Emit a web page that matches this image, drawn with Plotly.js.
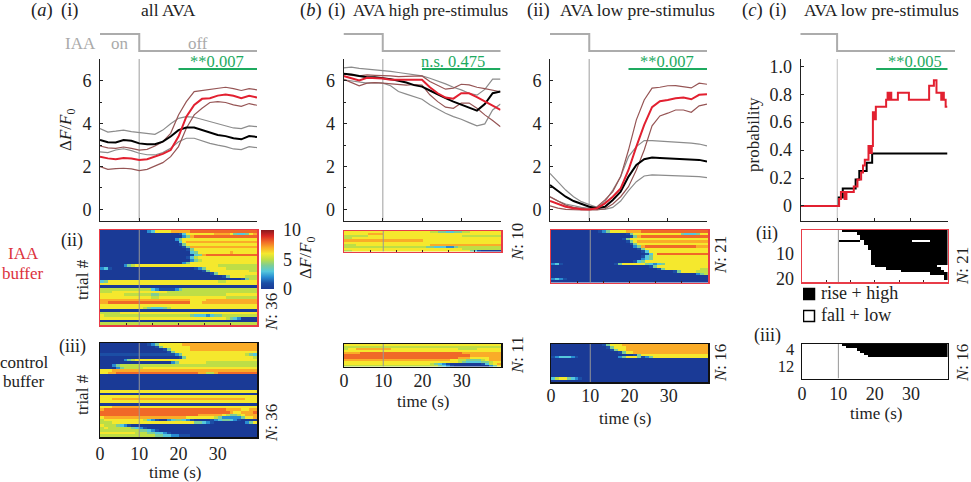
<!DOCTYPE html>
<html>
<head>
<meta charset="utf-8">
<script src="https://cdn.plot.ly/plotly-3.0.1.min.js"></script>
<style>html,body{margin:0;padding:0;background:#fff}</style>
</head>
<body>
<div id="chart" style="width:971px;height:482px"></div>
<script>
var W = 971, H = 482;
var serif = '"Liberation Serif", serif';

//time axis of the averaged traces, every 2 s
var lineTime = [0,2,4,6,8,10,12,14,16,18,20,22,24,26,28,30,32,34,36,38,40];
var stimTime = [0,10,43];
var stimLevel = [1,0,0];

//(a)(i) all AVA
var aControlMean = [3.24,3.13,3.12,3.24,3.2,3.08,3.04,3.04,3.16,3.4,3.7,3.82,3.82,3.7,3.58,3.47,3.42,3.32,3.27,3.42,3.38];
var aControlUp = [3.77,3.61,3.65,3.7,3.63,3.58,3.52,3.5,3.7,4.0,4.25,4.33,4.3,4.2,4.08,3.98,3.9,3.8,3.77,3.9,3.86];
var aControlLow = [2.68,2.65,2.77,2.83,2.74,2.62,2.55,2.54,2.65,2.85,3.16,3.32,3.32,3.2,3.08,3.0,2.93,2.82,2.79,2.93,2.88];
var aIaaMean = [2.46,2.38,2.34,2.4,2.37,2.3,2.34,2.46,2.59,2.77,3.4,4.33,4.88,5.16,5.19,5.31,5.36,5.3,5.19,5.3,5.22];
var aIaaUp = [2.96,2.87,2.85,2.91,2.85,2.77,2.8,2.96,3.16,3.55,4.41,5.03,5.5,5.55,5.61,5.67,5.7,5.64,5.55,5.64,5.58];
var aIaaLow = [2.0,1.87,1.9,1.92,1.89,1.81,1.87,2.03,2.18,2.46,2.93,3.79,4.41,4.72,4.99,5.03,4.99,4.88,4.81,4.94,4.86];

//(b)(i) AVA high pre-stimulus
var bhControlMean = [6.33,6.3,6.23,6.17,6.17,6.14,6.08,6.0,5.92,5.8,5.73,5.55,5.35,5.19,5.03,4.88,4.74,4.61,4.92,5.42,5.5];
var bhControlUp = [6.61,6.64,6.58,6.55,6.51,6.48,6.44,6.39,6.33,6.28,6.23,6.12,6.0,5.86,5.7,5.58,5.42,5.33,5.6,6.08,6.08];
var bhControlLow = [6.05,6.0,5.92,5.89,5.92,5.89,5.77,5.5,5.38,5.27,5.14,4.88,4.67,4.49,4.33,4.21,4.05,3.9,3.99,4.64,4.92];
var bhIaaMean = [6.23,6.11,6.02,6.14,6.14,6.11,6.05,6.05,6.05,6.08,6.05,5.7,5.42,5.22,5.17,5.42,5.42,5.24,5.03,4.83,4.64];
var bhIaaUp = [6.33,6.26,6.23,6.28,6.26,6.26,6.23,6.2,6.2,6.23,6.23,5.97,5.77,5.61,5.66,5.84,5.81,5.7,5.64,5.55,5.49];
var bhIaaLow = [6.08,5.92,5.77,5.89,5.92,5.89,5.86,5.83,5.8,5.83,5.8,5.35,5.03,4.77,4.72,4.96,4.96,4.72,4.41,4.15,3.86];

//(b)(ii) AVA low pre-stimulus
var blControlMean = [1.14,.87,.59,.39,.25,.12,.05,.12,.44,.83,1.53,2.07,2.34,2.42,2.4,2.38,2.35,2.34,2.34,2.31,2.23];
var blControlUp = [1.68,1.29,.9,.59,.36,.22,.09,.36,.9,1.53,2.46,2.93,3.21,3.21,3.19,3.16,3.15,3.12,3.09,3.05,2.96];
var blControlLow = [.59,.39,.25,.16,.09,.05,0,0,.09,.39,.87,1.29,1.56,1.61,1.6,1.59,1.57,1.56,1.55,1.53,1.48];
var blIaaMean = [.39,.25,.12,.05,0,-.01,.05,.28,.59,.98,1.84,2.93,3.94,4.77,5.05,5.11,5.19,5.22,5.14,5.35,5.38];
var blIaaUp = [.59,.39,.2,.09,.03,0,.12,.44,.83,1.53,2.77,4.18,5.11,5.66,5.7,5.77,5.78,5.73,5.67,5.89,5.84];
var blIaaLow = [.16,.06,0,-.03,-.03,-.03,-.03,.03,.25,.59,1.06,1.84,2.77,3.9,4.36,4.49,4.64,4.64,4.53,4.83,4.91];

//(c)(i) probability steps
var probControlT = [0,10,10.4,11.5,14.5,15,16,18,19.5,40];
var probControl = [0,0,.06,.125,.125,.19,.25,.31,.375,.375];
var probIaaT = [0,10,10.5,11,12,12.5,14,14.5,15.5,16.5,17,17.5,18.5,19,19.4,19.7,20,20.5,23,23.3,23.7,24,24.4,24.7,26.5,29.5,35,36.3,37,38.3,38.6,39,39.5,40];
var probIaa = [0,0,.05,.1,.05,.1,.1,.14,.19,.24,.29,.33,.43,.38,.43,.67,.62,.71,.71,.76,.81,.76,.81,.76,.81,.76,.86,.9,.81,.76,.81,.76,.71,.71];

//heat map rows, one digit per second = dF/F0 rounded
var heatAllIaa = [
'0000000000 0023666677 7778888888 8888888888',
'0000000000 0000000000 1366666667 7776433467',
'0000000000 0000000000 0247888888 8888888888',
'0000000000 0000000002 4666666666 6666666666',
'0000000000 0000000000 3677777777 7777777777',
'0000000000 0000000000 1466666666 6666666666',
'0000000000 0000000000 0147777777 7777777777',
'0000000000 0000000000 0014666666 6666666666',
'0000000000 0000000000 0003466666 6667666666',
'0000000000 0000000000 0001347888 8888888888',
'0000000000 0000000000 0013566666 6666666666',
'0000000000 0000000000 0002456666 6666666666',
'0000000000 0000000000 0246666666 6666666666',
'0000002456 6666666666 6666666666 5555555555',
'2310000000 0000000000 0000124666 6655555555',
'0000000000 0000000000 0000001466 6666666655',
'0000000000 0000000000 0000000014 6666666666',
'0000000000 0000000000 0000000000 0146666555',
'0000000000 0000000000 0000000000 0000001455',
'3466666666 6666666666 6666666666 5566666666',
'6666666666 6666666666 6666666666 6666666666',
'0000000000 0000000000 0000000000 0000000000',
'5555555555 5553211112 4555555555 5555555555',
'5556666666 6666666555 5555555555 5555555555',
'6666665555 5554455555 5555555555 5566666666',
'6666666666 6665566666 6666666666 6655555555',
'7777777777 7777777777 7776666777 7777777777',
'7788888888 8888888888 8886667777 7777777777',
'6666666666 6666666666 6666666666 6666666666',
'6666666666 6543334566 6666666666 6666666666',
'0000000000 0000000000 0000000000 0000000000',
'5555566666 6666666666 6666666666 6666666666',
'6555555555 5555555555 5554333234 4555555555',
'6666666666 6666666666 6666666666 6654320000',
'0000000000 0000000000 0000000000 0000000000',
'5555555555 5555555555 5555555555 5555555555'
];
var heatAllControl = [
'0000000000 0012466666 6777777777 7777777777',
'0000000000 0000146666 6667777777 7777777777',
'0000000000 0000001466 6667777777 7777777777',
'0000000000 0000000146 6666666666 6666666666',
'1111111111 1111111112 4666666666 6666666543',
'0000000000 0000000000 1466666666 6666666665',
'0000002456 6666666666 6666666666 6666666666',
'0000000000 0000000024 6666666555 5555555555',
'0002455555 5555555555 5555555555 5555555555',
'0000245555 5666666666 6666666666 6666666666',
'6667777777 7777777777 7777777777 7777777777',
'6677888888 8888888888 8888877557 8888888888',
'0000000000 0000000000 0000000000 0000000000',
'0000000000 0000000000 0000000000 0000000000',
'0000000000 0000000000 0000000000 0000000000',
'0000000000 0000000000 0000000000 0000000000',
'0000000000 0000000000 0000000000 0000000000',
'0000000000 0000000000 0000000000 0000000000',
'6666666666 6666666666 6666666666 6666666666',
'0000000000 0000000000 0000000000 0000000000',
'6666666666 6666666666 6666666666 6666666666',
'6667777777 7777777777 7777777777 7777777666',
'6666666666 6666666666 6666666666 6666666666',
'0000000000 0000000000 0000000000 0000000000',
'6667777777 6666666666 6666666666 6666666666',
'7888888888 8888888888 8888888888 8877776677',
'8888888888 8888888888 8888888888 8887667778',
'8888888888 8888888888 8888877777 7654456777',
'6777777777 7777777777 7766666665 4222224667',
'5666666666 6532100234 4321000012 3443210000',
'5556666666 6666666666 6666443210 0000000246',
'6555432100 0000000000 0000000000 0000000000',
'5655555543 2100000000 0000000000 0000000000',
'5555555555 4432100000 0000000000 0000000000',
'6666666665 5544332100 0000000000 0000000000',
'5555555555 5555443322 1110000000 0000000000'
];
var heatHighIaa = [
'6666666666 6666666666 6655443344 5566666666',
'6666667777 6666666666 6666666666 6666666666',
'5555556666 6666666666 6666666666 5555555555',
'5566666666 6666666666 6666666666 6666666666',
'7777777777 7777777777 6666666666 6666666666',
'6666666666 6666666666 6666666666 6666666666',
'5556666666 6666666666 6677777777 7777777777',
'5555555555 5555555555 5443332245 5555555555',
'6666666666 6666666666 6666666666 5555555555',
'5566666666 6666666666 6666666666 6643100000'
];
var heatHighControl = [
'6666666666 6666666666 6666666666 6666666666',
'5555555555 5555555555 5555555555 5555555555',
'5667777777 7766666666 6666666665 5555666666',
'6666666666 6666666666 6666666666 6666666666',
'7777888888 8888888888 8888888888 7777777777',
'8888888888 8888888888 8888888888 8877777777',
'8888888888 8888888888 8888888887 7766666777',
'7777777777 7777777777 7777777665 5444456777',
'6666666666 6666666666 6666666665 4333344566',
'6666666666 6666666666 6654321000 0000013567',
'5555555555 5555555555 5555432100 0000000246'
];
var heatLowIaa = [
'0000000000 0012466667 7778888888 8888888888',
'0000000000 0000000001 4666666666 6664333466',
'0000000000 0000000000 1478888888 8888888888',
'0000000000 0000000014 6666666666 6666666666',
'0000000000 0000000001 4677777777 7777777777',
'0000000000 0000000000 1466666666 6666666666',
'0000000000 0000000000 0247888888 8888888777',
'0000000000 0000000000 0014666666 6666666666',
'0000000000 0000000000 0001366666 6666666666',
'0000000000 0000000000 0000136888 8888888888',
'0000000000 0000000000 0001346666 6666666666',
'0000000000 0000000000 0002346666 6666666666',
'0000000000 0000000000 0134666666 6666666666',
'2310000000 0000001466 6666432346 6666666666',
'0000000000 0000000000 0000014666 6666666666',
'0000000000 0000000000 0000000146 6666666655',
'0000000000 0000000000 0000000000 0146666555',
'0000000000 0000000000 0000000000 0000000245',
'0000000000 0000000000 0000000000 0000000000',
'2321000000 0000000000 0000000000 0000000000',
'0000000000 0000000000 0000000000 0000000000'
];
var heatLowControl = [
'0000000000 0001466677 7777777777 7777777777',
'0000000000 0000146667 7777777777 7777777777',
'0000000000 0000014667 7777777777 7777777777',
'0000000000 0000000146 6777777777 7777777777',
'0000000000 0000000000 0146666666 6666666666',
'1233321000 0000000246 6641246666 6666666666',
'0000000000 0000000000 0000000000 0000000000',
'0000000000 0000000000 0000000000 0000000000',
'0000000000 0000000000 0000000000 0000000000',
'0000000000 0000000000 0000000000 0000000000',
'0000000000 0000000000 0000000000 0000000000',
'0000000000 0000000000 0000000000 0000000000',
'0000000000 0000000000 0000000000 0000000000',
'0000000000 0000000000 0000000000 0000000000',
'3566432100 0000000000 0000000000 0000000000',
'0000000000 0000000000 0000000000 0000000000'
];
//rise + high = 1, fall + low = 0
var stateIaa = [
'0000000000 0111111111 1111111111 1111111111',
'0000000000 0000011111 1111111111 1111111111',
'0000000000 0000001111 1111111111 1111111111',
'0000000000 0000001111 1111111111 1111111111',
'0000000000 1111110111 1111111111 0000011111',
'0000000000 0000000111 1111111111 1111111111',
'0000000000 0000000011 1111111111 1111111111',
'0000000000 0000000011 1111111111 1111111111',
'0000000000 0000000001 1111111111 1111111111',
'0000000000 0000000001 1111111111 1111111111',
'0000000000 0000000001 1111111111 1111111111',
'0000000000 0000000001 1111111111 1111111111',
'0000000000 0000000001 1111111111 1111111111',
'0000000000 0000000001 1111111111 1111111111',
'0000000000 0000000000 1111111111 1111111000',
'0000000000 0000000000 0001111111 1111111100',
'0000000000 0000000000 0000000111 1111111110',
'0000000000 0000000000 0000000000 0000011111',
'0000000000 0000000000 0000000000 0000000001',
'0000000000 0000000000 0000000000 0000000001',
'0000000000 0000000000 0000000000 0000000000'
];
var stateControl = [
'0000000000 0111111111 1111111111 1111111111',
'0000000000 0011111111 1111111111 1111111111',
'0000000000 0000011111 1111111111 1111111111',
'0000000000 0000001111 1111111111 1111111111',
'0000000000 0000000111 1111111111 1111111111',
'0000000000 0000000011 1111111111 1111111111',
'0000000000 0000000000 0000000000 0000000000',
'0000000000 0000000000 0000000000 0000000000',
'0000000000 0000000000 0000000000 0000000000',
'0000000000 0000000000 0000000000 0000000000',
'0000000000 0000000000 0000000000 0000000000',
'0000000000 0000000000 0000000000 0000000000',
'0000000000 0000000000 0000000000 0000000000',
'0000000000 0000000000 0000000000 0000000000',
'0000000000 0000000000 0000000000 0000000000',
'0000000000 0000000000 0000000000 0000000000'
];
var stateNames = ['rise + high','fall + low'];

var heatColors = [
  [0,'rgb(26,58,150)'],[0.1,'rgb(28,78,165)'],[0.2,'rgb(40,140,210)'],[0.3,'rgb(85,200,220)'],
  [0.4,'rgb(125,205,150)'],[0.5,'rgb(190,222,70)'],[0.6,'rgb(245,232,45)'],[0.7,'rgb(250,172,40)'],
  [0.8,'rgb(240,105,40)'],[0.9,'rgb(215,40,35)'],[1,'rgb(135,25,30)']
];
var blackWhite = [[0,'#fff'],[1,'#000']];

var red = 'rgb(226,32,48)', redBand = 'rgb(150,85,85)', greyBand = 'rgb(140,140,140)';
var green = 'rgb(30,170,95)', stimGrey = 'rgb(172,172,172)', inkRed = 'rgb(232,60,72)';
var ink = '#222';

var data = [], annotations = [];
var layout = {
  width: W, height: H, margin: {l:0,r:0,t:0,b:0},
  paper_bgcolor: '#fff', plot_bgcolor: 'rgba(0,0,0,0)',
  font: {family: serif, size: 17, color: ink},
  showlegend: false,
  annotations: annotations
};

var axisCount = 0;
//new subplot from pixel box, returns the x/y ids for the traces
function addAxes(x0, x1, y0, y1, xOpt, yOpt) {
  axisCount++;
  var n = axisCount;
  var xa = {domain:[x0/W, x1/W], anchor:'y'+n, range:[0,40], zeroline:false, showgrid:false, fixedrange:true};
  var ya = {domain:[1-y1/H, 1-y0/H], anchor:'x'+n, zeroline:false, showgrid:false, fixedrange:true};
  Object.assign(xa, xOpt); Object.assign(ya, yOpt);
  layout['xaxis'+n] = xa; layout['yaxis'+n] = ya;
  return {x:'x'+n, y:'y'+n};
}

function txt(text, x, y, opt) {
  annotations.push(Object.assign({text:text, x:x/W, y:1-y/H, xref:'paper', yref:'paper', showarrow:false,
    xanchor:'center', yanchor:'middle', font:{family:serif,size:17,color:ink}}, opt||{}));
}

function addStim(x0, x1, xRange) {
  var ax = addAxes(x0, x1, 30, 55, {visible:false, range:xRange||[0,40]}, {visible:false, range:[-0.235,1.235]});
  data.push({type:'scatter', mode:'lines', x:stimTime, y:stimLevel, xaxis:ax.x, yaxis:ax.y,
    line:{color:stimGrey, width:2, shape:'hv'}, hoverinfo:'skip'});
}

function lineAxes(x0, x1, yRange, yOpt) {
  return addAxes(x0, x1, 59, 220.5,
    {showline:true, linecolor:ink, linewidth:1, ticks:'inside', ticklen:3, tickcolor:ink, tickvals:[0,10,20,30,40], showticklabels:false},
    Object.assign({range:yRange, showline:true, linecolor:ink, linewidth:1, ticks:'inside', ticklen:3, tickcolor:ink,
      ticklabelstandoff:4, tickfont:{family:serif,size:18,color:ink}}, yOpt));
}

function addLine(ax, xs, ys, color, width, shape) {
  data.push({type:'scatter', mode:'lines', x:xs, y:ys, xaxis:ax.x, yaxis:ax.y, cliponaxis:false,
    line:{color:color, width:width, shape:shape||'linear'}, hoverinfo:'skip'});
}

function addTraces(ax, yRange, sigFrom, sigY, set) {
  addLine(ax, [10,10], yRange, 'rgb(190,190,190)', 1.5);
  addLine(ax, [sigFrom,40], [sigY,sigY], green, 2);
  addLine(ax, lineTime, set[1], greyBand, 1.2);
  addLine(ax, lineTime, set[2], greyBand, 1.2);
  addLine(ax, lineTime, set[4], redBand, 1.2);
  addLine(ax, lineTime, set[5], redBand, 1.2);
  addLine(ax, lineTime, set[0], '#000', 2);
  addLine(ax, lineTime, set[3], red, 2);
}

function rowsToZ(rows) {
  return rows.map(function(r){ return r.replace(/ /g,'').split('').map(Number); });
}

var columnTime = [];
for (var c = 0; c < 40; c++) columnTime.push(c + 0.5);

function addHeat(rows, x0, x1, y0, y1, border, xOpt, yOpt, traceOpt) {
  var n = rows.length;
  var base = {showline:true, mirror:true, linecolor:border, linewidth:1.5, ticks:''};
  var ax = addAxes(x0, x1, y0, y1,
    Object.assign({}, base, {showticklabels:false}, xOpt),
    Object.assign({}, base, {range:[n+0.5,0.5], showticklabels:false}, yOpt));
  data.push(Object.assign({type:'heatmap', x:columnTime, z:rowsToZ(rows), y:rows.map(function(r,i){return i+1;}),
    xaxis:ax.x, yaxis:ax.y, zmin:0, zmax:10, colorscale:heatColors, showscale:false, hoverinfo:'skip'}, traceOpt||{}));
  addLine(ax, [10,10], [0.5,n+0.5], 'rgb(150,150,150)', 1);
}

function timeTicks(standoff) {
  return {tickvals:[0,10,20,30], ticktext:['0','10','20','30'], showticklabels:true, ticklabelstandoff:standoff, tickfont:{family:serif,size:18,color:ink}};
}
var redTicks = {ticks:'inside', ticklen:2, tickcolor:'rgb(60,30,30)', tickvals:[6.7,13.3,20,26.7,33.3]};
var dfTicks = {tickvals:[0,2,4,6], ticktext:['0','2','4','6'], minor:{dtick:1, ticks:'inside', ticklen:2, tickcolor:ink}};
var dfRange = [-0.52,7.02];
var probRange = [-0.104,1.052];

//top row, averaged traces
addStim(100, 257);
addTraces(lineAxes(100, 257, dfRange, dfTicks), dfRange, 20, 6.55, [aControlMean,aControlUp,aControlLow,aIaaMean,aIaaUp,aIaaLow]);
addStim(343.5, 500.5);
addTraces(lineAxes(343.5, 500.5, dfRange, dfTicks), dfRange, 20, 6.55, [bhControlMean,bhControlUp,bhControlLow,bhIaaMean,bhIaaUp,bhIaaLow]);
addStim(550, 707);
addTraces(lineAxes(550, 707, dfRange, dfTicks), dfRange, 20, 6.55, [blControlMean,blControlUp,blControlLow,blIaaMean,blIaaUp,blIaaLow]);
addStim(798, 955, [-0.68,42.2]);
var probAx = lineAxes(800.5, 947.5, probRange, {tickvals:[0,.2,.4,.6,.8,1], ticktext:['0','0.2','0.4','0.6','0.8','1.0']});
addLine(probAx, [10,10], probRange, 'rgb(190,190,190)', 1);
addLine(probAx, [20.6,42.2], [0.98,0.98], green, 2);
addLine(probAx, probControlT, probControl, '#000', 2, 'hv');
addLine(probAx, probIaaT, probIaa, red, 2, 'hv');

//heat maps
addHeat(heatAllIaa, 100, 257, 230, 325, inkRed, redTicks, {}, {showscale:true,
  colorbar:{x:261/W, xanchor:'left', y:1-230/H, yanchor:'top', len:59, lenmode:'pixels', thickness:13, thicknessmode:'pixels',
    tickvals:[0,5,10], ticks:'outside', ticklen:6, tickcolor:'rgba(0,0,0,0)', outlinewidth:0, xpad:0, ypad:0, tickfont:{family:serif,size:18,color:ink}}});
addHeat(heatAllControl, 100, 257, 343, 437, '#111', timeTicks(0));
addHeat(heatHighIaa, 344, 501, 231, 251.5, inkRed, redTicks);
addHeat(heatHighControl, 344, 501, 344, 366.5, '#111', timeTicks(-3));
addHeat(heatLowIaa, 551, 708, 230, 282.5, inkRed, redTicks);
addHeat(heatLowControl, 551, 708, 344, 382, '#111', timeTicks(-3));
var binary = {zmax:1, colorscale:blackWhite};
addHeat(stateIaa, 802, 947.5, 230, 282, inkRed, redTicks,
  {tickvals:[10,20], showticklabels:true, ticklabelstandoff:3, tickfont:{family:serif,size:18,color:ink}}, binary);
addHeat(stateControl, 802, 947.5, 344, 378.5, '#111', timeTicks(-2),
  {tickvals:[3,11], ticktext:['4','12'], showticklabels:true, ticklabelstandoff:3, tickfont:{family:serif,size:16.5,color:ink}}, binary);

//key of the state maps, hidden axes counted in px
var keyAx = addAxes(803, 903, 283, 327, {visible:false, range:[0,100]}, {visible:false, range:[44,0]});
data.push({type:'scatter', mode:'markers', x:[6,6], y:[11,33], xaxis:keyAx.x, yaxis:keyAx.y, hoverinfo:'skip',
  marker:{symbol:'square', size:11, color:['#000','#fff'], line:{color:'#000',width:1.5}}});
data.push({type:'scatter', mode:'text', x:[18,18], y:[11,33], text:stateNames, textposition:'middle right', xaxis:keyAx.x, yaxis:keyAx.y,
  hoverinfo:'skip', textfont:{family:serif,size:18,color:ink}});

//panel labels and titles
var head = {font:{family:serif,size:18.5,color:ink}};
var panelHeads = [['(<i>a</i>)',42],['(i)',69],['(<i>b</i>)',311],['(i)',336],['(ii)',538],['(<i>c</i>)',752],['(i)',777]];
panelHeads.forEach(function(h){ txt(h[0], h[1], 10, head); });
var title = {font:{family:serif,size:17.5,color:ink}};
txt('all AVA', 168, 10, title);
txt('AVA high pre-stimulus', 430, 10, {font:{family:serif,size:17,color:ink}});
txt('AVA low pre-stimulus', 637, 10, title);
txt('AVA low pre-stimulus', 881, 10, title);

var grey = {font:{family:serif,size:17,color:'rgb(170,170,170)'}};
txt('IAA', 80, 43, grey);
txt('on', 120, 43, grey);
txt('off', 198, 43, grey);

var greenFont = {font:{family:serif,size:16.5,color:green}};
txt('**0.007', 217, 61, greenFont);
txt('n.s. 0.475', 453, 61, greenFont);
txt('**0.007', 667, 61, greenFont);
txt('**0.005', 915, 61, greenFont);

var big = {font:{family:serif,size:18,color:ink}};
var rot = {font:{family:serif,size:17,color:ink}, textangle:-90};
txt('Δ<i>F</i>/<i>F</i><sub>0</sub>', 67, 130, rot);
txt('probability', 753, 135, rot);
txt('Δ<i>F</i>/<i>F</i><sub>0</sub>', 307, 258, rot);
txt('trial #', 82, 280, rot);
txt('trial #', 82, 395, rot);

txt('(ii)', 72, 240, big);
txt('(iii)', 72, 346, big);
txt('(ii)', 767, 233, big);
txt('(iii)', 767, 335, big);

var redFont = {font:{family:serif,size:17,color:'rgb(220,50,60)'}};
txt('IAA', 23, 253, redFont);
txt('buffer', 23, 273, redFont);
var dark = {font:{family:serif,size:17,color:ink}};
txt('control', 24, 362, dark);
txt('buffer', 24, 381, dark);

var nLabels = [['36',271,312],['36',271,423],['10',517,242],['11',517,355],['21',720,255],['16',720,363],['21',962,266],['16',962,363]];
nLabels.forEach(function(n){ txt('<i>N</i>: '+n[0], n[1], n[2], rot); });

txt('time (s)', 175, 472.5, dark);
txt('time (s)', 423, 401, dark);
txt('time (s)', 625, 418, dark);
txt('time (s)', 876, 413, dark);

Plotly.newPlot('chart', data, layout, {displayModeBar:false, staticPlot:true});
</script>
</body>
</html>
